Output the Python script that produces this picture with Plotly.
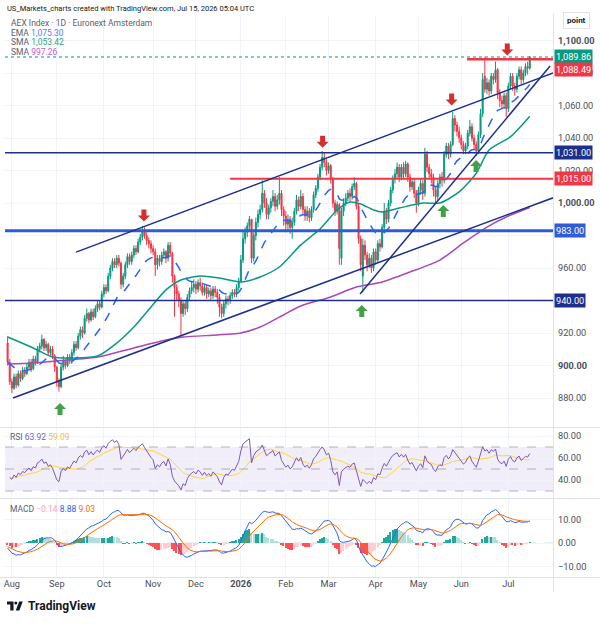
import numpy as np
import pandas as pd
import plotly.graph_objects as go

W, H = 600, 624
FONT = "Roboto, Inter, sans-serif"

# ---------------- data ----------------
holidays = ["2025-12-25", "2025-12-26", "2026-01-01", "2026-04-03", "2026-04-06", "2026-05-01"]
dates = pd.bdate_range("2025-07-30", "2026-07-15")
dates = dates[~dates.isin(pd.to_datetime(holidays))]

opens = [
    914, 902, 890, 886, 893, 888, 895, 892, 897, 895,
    899, 902, 898, 904, 902, 910, 912, 916, 911, 913,
    908, 910, 906, 899, 890, 887, 899, 903, 900, 905,
    903, 908, 913, 911, 918, 922, 920, 929, 932, 928,
    933, 930, 935, 938, 936, 944, 948, 946, 955, 960,
    964, 962, 966, 963, 950, 955, 962, 967, 964, 968,
    972, 970, 976, 979, 983, 980, 977, 975, 972, 970,
    962, 966, 964, 968, 970, 966, 974, 969, 955, 948,
    944, 940, 932, 938, 935, 942, 946, 948, 950, 947,
    951, 949, 945, 948, 944, 946, 943, 947, 945, 942,
    936, 932, 938, 941, 940, 943, 945, 944, 948, 952,
    965, 978, 982, 986, 990, 966, 980, 988, 993, 996,
    1006, 1000, 993, 997, 1001, 1004, 998, 1002, 1006, 996,
    992, 987, 990, 985, 988, 995, 1002, 998, 1004, 996,
    992, 995, 991, 996, 1005, 1009, 1016, 1022, 1028, 1025,
    1020, 1023, 1015, 1000, 995, 999, 966, 995, 1000, 1003,
    1006, 1004, 1010, 1012, 998, 978, 955, 974, 968, 962,
    966, 960, 970, 965, 975, 973, 985, 995, 990, 1000,
    1008, 1015, 1018, 1022, 1016, 1022, 1018, 1024, 1016, 1010,
    1013, 1006, 1000, 1008, 1012, 1006, 1030, 1022, 1018, 1016,
    1008, 1004, 1012, 1016, 1014, 1030, 1035, 1030, 1036, 1052,
    1048, 1044, 1040, 1036, 1032, 1035, 1043, 1047, 1040, 1036,
    1032, 1042, 1055, 1078, 1070, 1074, 1069, 1078, 1076, 1082,
    1068, 1063, 1061, 1066, 1058, 1072, 1078, 1072, 1070, 1078,
    1082, 1076, 1080, 1084, 1083,
]
highs = [
    918, 904, 892, 895, 895, 897, 897, 899, 899, 901,
    904, 904, 906, 906, 912, 914, 919, 917, 915, 914,
    912, 912, 907, 900, 892, 901, 906, 904, 907, 907,
    910, 915, 915, 920, 924, 924, 931, 935, 933, 935,
    935, 937, 940, 940, 946, 950, 950, 957, 962, 966,
    966, 968, 968, 964, 957, 964, 969, 969, 970, 974,
    974, 978, 981, 986, 985, 982, 979, 977, 974, 972,
    968, 968, 970, 972, 971, 976, 976, 970, 956, 950,
    946, 942, 940, 940, 944, 948, 952, 953, 952, 953,
    954, 951, 950, 950, 948, 948, 949, 949, 947, 944,
    938, 940, 943, 943, 945, 947, 947, 950, 954, 968,
    983, 985, 988, 992, 990, 982, 991, 996, 999, 1014,
    1008, 1003, 999, 1003, 1008, 1006, 1005, 1016, 1008, 998,
    995, 993, 992, 991, 997, 1005, 1004, 1008, 1006, 998,
    998, 997, 998, 1007, 1011, 1018, 1024, 1032, 1031, 1027,
    1025, 1024, 1016, 1002, 1001, 1000, 997, 1003, 1006, 1008,
    1009, 1012, 1016, 1013, 1000, 980, 978, 977, 970, 969,
    968, 972, 972, 977, 978, 987, 1000, 997, 1002, 1010,
    1017, 1021, 1025, 1024, 1024, 1025, 1026, 1025, 1018, 1015,
    1015, 1008, 1010, 1015, 1014, 1034, 1032, 1024, 1021, 1018,
    1010, 1014, 1018, 1019, 1032, 1037, 1037, 1038, 1056, 1054,
    1050, 1047, 1042, 1038, 1037, 1045, 1051, 1049, 1042, 1038,
    1044, 1058, 1080, 1090, 1077, 1076, 1080, 1080, 1087, 1083,
    1070, 1066, 1068, 1068, 1074, 1080, 1080, 1074, 1080, 1084,
    1084, 1082, 1086, 1087, 1090.5,
]
lows = [
    900, 888, 883, 885, 886, 887, 890, 891, 893, 894,
    897, 896, 897, 900, 901, 908, 910, 909, 909, 906,
    906, 904, 896, 887, 884, 886, 897, 898, 899, 901,
    901, 906, 909, 910, 916, 917, 919, 927, 926, 927,
    928, 929, 933, 934, 935, 942, 944, 945, 953, 958,
    960, 960, 961, 947, 948, 953, 960, 962, 962, 966,
    968, 969, 974, 977, 978, 974, 972, 969, 968, 955,
    959, 961, 962, 966, 963, 964, 967, 951, 930, 940,
    936, 918, 930, 931, 933, 940, 944, 945, 944, 945,
    946, 943, 943, 941, 942, 940, 941, 942, 938, 930,
    929, 930, 935, 937, 938, 941, 942, 942, 946, 951,
    963, 975, 979, 983, 963, 964, 977, 985, 990, 994,
    997, 990, 990, 994, 998, 995, 996, 999, 992, 986,
    982, 983, 981, 978, 986, 993, 995, 996, 993, 989,
    989, 988, 989, 994, 1003, 1007, 1014, 1020, 1022, 1017,
    1018, 1012, 997, 992, 993, 962, 962, 992, 998, 1001,
    1001, 1002, 1008, 996, 975, 958, 945, 965, 958, 960,
    957, 958, 962, 963, 970, 972, 983, 987, 988, 998,
    1006, 1012, 1015, 1013, 1014, 1015, 1016, 1013, 1007, 1008,
    1003, 994, 998, 1005, 1002, 1004, 1019, 1015, 1012, 1004,
    1000, 1002, 1009, 1010, 1012, 1028, 1027, 1028, 1035, 1044,
    1041, 1037, 1033, 1030, 1030, 1033, 1041, 1038, 1033, 1029,
    1030, 1040, 1053, 1068, 1067, 1066, 1067, 1073, 1074, 1064,
    1059, 1058, 1059, 1053, 1056, 1070, 1069, 1066, 1068, 1076,
    1073, 1074, 1078, 1079, 1082,
]
closes = [
    902, 890, 886, 893, 888, 895, 892, 897, 895, 899,
    902, 898, 904, 902, 910, 912, 916, 911, 913, 908,
    910, 906, 899, 890, 887, 899, 903, 900, 905, 903,
    908, 913, 911, 918, 922, 920, 929, 932, 928, 933,
    930, 935, 938, 936, 944, 948, 946, 955, 960, 964,
    962, 966, 963, 950, 955, 962, 967, 964, 968, 972,
    970, 976, 979, 983, 980, 977, 975, 972, 970, 962,
    966, 964, 968, 970, 966, 974, 969, 955, 948, 944,
    940, 932, 938, 935, 942, 946, 948, 950, 947, 951,
    949, 945, 948, 944, 946, 943, 947, 945, 942, 936,
    932, 938, 941, 940, 943, 945, 944, 948, 952, 965,
    978, 982, 986, 990, 966, 980, 988, 993, 996, 1006,
    1000, 993, 997, 1001, 1004, 998, 1002, 1006, 996, 992,
    987, 990, 985, 988, 995, 1002, 998, 1004, 996, 992,
    995, 991, 996, 1005, 1009, 1016, 1022, 1028, 1025, 1020,
    1023, 1015, 1000, 995, 999, 972, 995, 1000, 1003, 1006,
    1004, 1010, 1012, 998, 978, 962, 974, 968, 962, 966,
    960, 970, 965, 975, 973, 985, 995, 990, 1000, 1008,
    1015, 1018, 1022, 1016, 1022, 1018, 1024, 1016, 1010, 1013,
    1006, 1000, 1008, 1012, 1006, 1030, 1022, 1018, 1016, 1008,
    1004, 1012, 1016, 1014, 1030, 1035, 1030, 1036, 1052, 1048,
    1044, 1040, 1036, 1032, 1035, 1043, 1047, 1040, 1036, 1032,
    1042, 1055, 1076, 1070, 1074, 1069, 1078, 1076, 1082, 1068,
    1063, 1061, 1066, 1058, 1072, 1078, 1072, 1070, 1078, 1082,
    1076, 1080, 1084, 1083, 1089.86,
]

# moving averages (bar index, value)
sma50_bar = [0, 12, 21, 31, 42, 51, 59, 67, 74, 81, 90, 99, 109, 118, 127, 137, 146, 154, 160,
             165, 171, 175, 183, 194, 202, 211, 219, 225, 235, 244]
sma50_val = [917.5, 910.8, 905.2, 904.6, 905.8, 913.8, 923.7, 936.0, 946.5, 952.6, 955.1, 953.8,
             951.4, 954.5, 960.6, 974.2, 984.0, 995.7, 1000.6, 999.4, 995.7, 994.5, 996.9, 1000.0,
             1000.0, 1006.8, 1018.3, 1032.6, 1040.8, 1053.42]
sma200_bar = [0, 12, 28, 42, 59, 74, 82, 98, 109, 118, 127, 137, 151, 163, 175, 188, 202, 213,
              224, 233, 244]
sma200_val = [900.9, 901.5, 903.4, 905.2, 910.8, 915.7, 917.5, 918.8, 920.0, 923.7, 929.8, 936.6,
              942.2, 948.3, 951.4, 957.5, 964.9, 975.4, 985.2, 991.4, 997.26]

# indicator state carried in from before the visible window (read from first visible values)
rsi_seed_gain, rsi_seed_loss = 3.6, 4.0
macd_seed_fast, macd_seed_slow, macd_seed_signal = 906.0, 908.0, -1.5

# drawings
level_price = [1031.00, 1015.00, 983.00, 940.00, 1088.49]
level_start = [None, 104, None, None, 214.7]
trend_x0 = [32.0, 2.5, 164.7]
trend_y0 = [969.8, 880.0, 944.0]
trend_x1 = [254.9, 254.9, 253.5]
trend_y1 = [1080.0, 1003.2, 1084.3]
down_arrow_bar = [63.7, 147.2, 207.5, 233.5]
down_arrow_price = [988.6, 1034.0, 1060.0, 1090.8]
up_arrow_bar = [24.5, 165.5, 203.6, 218.9]
up_arrow_price = [876.9, 937.2, 998.8, 1026.5]
last_price = 1089.86

month_labels = ["Aug", "Sep", "Oct", "Nov", "Dec", "<b>2026</b>", "Feb", "Mar", "Apr", "May", "Jun", "Jul"]
legend_ema, legend_sma50, legend_sma200 = "1,075.30", "1,053.42", "997.26"
legend_rsi = ["63.92", "59.09"]
legend_macd = ["\u22120.14", "8.88", "9.03"]

# ---------------- geometry ----------------
PX_L, PX_R = 5, 553
BAR0_PX, BAR_PX = 7.6, 2.14
X_RANGE = [(PX_L - BAR0_PX) / BAR_PX, (PX_R - BAR0_PX) / BAR_PX]


def pyp(py):
    return 1 - py / H


def pxp(px):
    return px / W


P_TOP, P_BOT = 15, 426
def price_at(py):
    return 1000 - (py - 203) / 1.625
R_TOP, R_BOT = 428, 497
def rsi_at(py):
    return 60 - (py - 458) / 1.1
M_TOP, M_BOT = 499, 577
def macd_at(py):
    return -(py - 543) / 2.35

UP, DN = "#089981", "#f23645"
NAVY, BLUE, RED = "#1c2f8c", "#2f5bd6", "#f23645"
GRID = "#f0f3fa"
TXT = "#131722"
AXT = "#4a4e5a"
LEG = "#5d606b"
TICK_SIZE = 9.2
LEG_SIZE = 8.5

xb = list(range(len(closes)))
month_pos = []
prev = (dates[0].year, dates[0].month)
for i, d in enumerate(dates):
    if (d.year, d.month) != prev:
        month_pos.append(i)
        prev = (d.year, d.month)

c = pd.Series(closes, dtype=float)
ema = c.ewm(span=20, adjust=False).mean()

# RSI (Wilder) continuing from seeded averages
ag, al = rsi_seed_gain, rsi_seed_loss
rsi_vals = []
for i in range(1, len(closes)):
    ch = closes[i] - closes[i - 1]
    ag = (ag * 13 + max(ch, 0)) / 14
    al = (al * 13 + max(-ch, 0)) / 14
    rsi_vals.append(100 - 100 / (1 + ag / al))
rsi = pd.Series(rsi_vals)
rsi_ma = rsi.rolling(14, min_periods=1).mean()

# MACD 12/26/9 continuing from seeded EMAs
f, s, sg = macd_seed_fast, macd_seed_slow, macd_seed_signal
macd_l, sig_l = [], []
for v in closes:
    f = f + (v - f) * 2 / 13
    s = s + (v - s) * 2 / 27
    m = f - s
    sg = sg + (m - sg) * 2 / 10
    macd_l.append(m)
    sig_l.append(sg)
macd = pd.Series(macd_l)
sig = pd.Series(sig_l)
hist = macd - sig
hcol = []
for i, h in enumerate(hist):
    p = hist.iloc[i - 1] if i > 0 else 0
    if h >= 0:
        hcol.append("#26a69a" if h >= p else "#b2dfdb")
    else:
        hcol.append("#ff5252" if h < p else "#ffcdd2")

fig = go.Figure()
fig.add_trace(go.Candlestick(
    x=xb, open=opens, high=highs, low=lows, close=closes,
    increasing=dict(line=dict(color=UP, width=1), fillcolor=UP),
    decreasing=dict(line=dict(color=DN, width=1), fillcolor=DN),
    whiskerwidth=0, xaxis="x", yaxis="y", hoverinfo="skip"))
fig.add_trace(go.Scatter(x=sma200_bar, y=sma200_val, mode="lines",
                         line=dict(color="#ab47bc", width=1.5, shape="spline", smoothing=0.7),
                         xaxis="x", yaxis="y"))
fig.add_trace(go.Scatter(x=sma50_bar, y=sma50_val, mode="lines",
                         line=dict(color="#089981", width=1.5, shape="spline", smoothing=0.7),
                         xaxis="x", yaxis="y"))
fig.add_trace(go.Scatter(x=xb, y=ema, mode="lines",
                         line=dict(color="#2962ff", width=1.5, dash="dash"),
                         xaxis="x", yaxis="y"))

fig.add_trace(go.Scatter(x=xb[1:], y=rsi_ma, mode="lines", line=dict(color="#fdd835", width=1),
                         xaxis="x2", yaxis="y2"))
fig.add_trace(go.Scatter(x=xb[1:], y=rsi, mode="lines", line=dict(color="#7e57c2", width=1),
                         xaxis="x2", yaxis="y2"))
fig.add_trace(go.Bar(x=xb, y=hist, marker=dict(color=hcol, line=dict(width=0)), width=0.65,
                     xaxis="x3", yaxis="y3"))
fig.add_trace(go.Scatter(x=xb, y=macd, mode="lines", line=dict(color="#2962ff", width=1),
                         xaxis="x3", yaxis="y3"))
fig.add_trace(go.Scatter(x=xb, y=sig, mode="lines", line=dict(color="#ff6d00", width=1),
                         xaxis="x3", yaxis="y3"))

shapes = []
shapes.append(dict(type="rect", xref="x2 domain", yref="y2", x0=0, x1=1, y0=30, y1=70,
                   fillcolor="rgba(126,87,194,0.10)", line=dict(width=0), layer="below"))
for lv in (70, 50, 30):
    shapes.append(dict(type="line", xref="x2 domain", yref="y2", x0=0, x1=1, y0=lv, y1=lv,
                       line=dict(color="rgba(120,123,134,0.55)", width=1, dash="dash")))
shapes.append(dict(type="line", xref="x3 domain", yref="y3", x0=0, x1=1, y0=0, y1=0,
                   line=dict(color="rgba(120,123,134,0.25)", width=1, dash="dash"), layer="below"))

lvl_style = [(NAVY, 1.5), (RED, 2), (BLUE, 3), (NAVY, 1.5), (RED, 2.5)]
for p, st, (col, wd) in zip(level_price, level_start, lvl_style):
    shapes.append(dict(type="line", xref="x", yref="y", x0=X_RANGE[0] if st is None else st,
                       x1=X_RANGE[1], y0=p, y1=p, line=dict(color=col, width=wd)))
shapes.append(dict(type="line", xref="x", yref="y", x0=X_RANGE[0], x1=X_RANGE[1],
                   y0=last_price, y1=last_price, line=dict(color=UP, width=1, dash="dot")))
for a, b, cc, d in zip(trend_x0, trend_y0, trend_x1, trend_y1):
    shapes.append(dict(type="line", xref="x", yref="y", x0=a, y0=b, x1=cc, y1=d,
                       line=dict(color=NAVY, width=1.5)))
down_path = "M0,0 L-6,6 L-2.5,6 L-2.5,12 L2.5,12 L2.5,6 L6,6 Z"
up_path = "M0,0 L-6,-6 L-2.5,-6 L-2.5,-12 L2.5,-12 L2.5,-6 L6,-6 Z"
for bx, by in zip(down_arrow_bar, down_arrow_price):
    shapes.append(dict(type="path", xref="x", yref="y", xsizemode="pixel", ysizemode="pixel",
                       xanchor=bx, yanchor=by, path=down_path, fillcolor="#d32f2f",
                       line=dict(width=0)))
for bx, by in zip(up_arrow_bar, up_arrow_price):
    shapes.append(dict(type="path", xref="x", yref="y", xsizemode="pixel", ysizemode="pixel",
                       xanchor=bx, yanchor=by, path=up_path, fillcolor="#43a047",
                       line=dict(width=0)))

SEP = "#e0e3eb"
def pline(x0, y0, x1, y1, col=SEP, w=1):
    shapes.append(dict(type="line", xref="paper", yref="paper", x0=pxp(x0), x1=pxp(x1),
                       y0=pyp(y0), y1=pyp(y1), line=dict(color=col, width=w)))
pline(553.5, 14, 553.5, 592)
pline(0, 427.5, 600, 427.5)
pline(0, 498.5, 600, 498.5)
pline(0, 577.5, 600, 577.5)

def ppath(pts):
    return "M" + " L".join(f"{pxp(x):.5f},{pyp(y):.5f}" for x, y in pts) + " Z"
shapes.append(dict(type="path", xref="paper", yref="paper",
                   path=ppath([(7, 601.5), (13.5, 601.5), (13.5, 610.5), (10.3, 610.5), (10.3, 604.5), (7, 604.5)]),
                   fillcolor=TXT, line=dict(width=0)))
shapes.append(dict(type="circle", xref="paper", yref="paper", x0=pxp(14.3), x1=pxp(17.3),
                   y0=pyp(604.5), y1=pyp(601.5), fillcolor=TXT, line=dict(width=0)))
shapes.append(dict(type="path", xref="paper", yref="paper",
                   path=ppath([(19.2, 601.5), (22.8, 601.5), (19.3, 610.5), (15.7, 610.5)]),
                   fillcolor=TXT, line=dict(width=0)))

ann = []
def text(px, py, t, size=LEG_SIZE, color=TXT, xanchor="left", **kw):
    ann.append(dict(xref="paper", yref="paper", x=pxp(px), y=pyp(py), text=t, showarrow=False,
                    xanchor=xanchor, yanchor="middle", font=dict(size=size, color=color, family=FONT), **kw))

text(5, 9, "US_Markets_charts created with TradingView.com, Jul 15, 2026 05:04 UTC", size=7.5, color=TXT)
text(9, 23, "AEX Index \u00b7 1D \u00b7 Euronext Amsterdam", color=LEG)
text(9, 33, f"EMA <span style='color:#5b7cf7'>{legend_ema}</span>", color=LEG)
text(9, 42.5, f"SMA <span style='color:#1fa58b'>{legend_sma50}</span>", color=LEG)
text(9, 52, f"SMA <span style='color:#c159d8'>{legend_sma200}</span>", color=LEG)
text(8, 437, f"RSI <span style='color:#7e57c2'>{legend_rsi[0]}</span> "
             f"<span style='color:#e8c43a'>{legend_rsi[1]}</span>", color=LEG)
text(8, 509, f"MACD <span style='color:#f7a8b0'>{legend_macd[0]}</span> "
             f"<span style='color:#2962ff'>{legend_macd[1]}</span> "
             f"<span style='color:#ff6d00'>{legend_macd[2]}</span>", color=LEG)
text(25.5, 606, "<b>TradingView</b>", size=12, color=TXT)
text(576, 20, "<b>point</b>", size=8, color=TXT, xanchor="center",
     bordercolor="#e0e3eb", borderwidth=1, borderpad=3, bgcolor="white")

def fmt(v):
    return f"{v:,.2f}"
lab_specs = [(last_price, UP, 0), (1088.49, RED, -10), (1031.00, NAVY, 0), (1015.00, RED, 0),
             (983.00, BLUE, 0), (940.00, NAVY, 0)]
for v, col, ys in lab_specs:
    ann.append(dict(xref="paper", yref="y", x=pxp(554), y=v, text=fmt(v), showarrow=False,
                    xanchor="left", yanchor="middle", yshift=ys, bgcolor=col, borderpad=1,
                    font=dict(size=TICK_SIZE, color="white", family=FONT)))

price_ticks = list(range(880, 1101, 20))
hidden_ticks = [940, 980]   # covered by the level labels on the scale
price_text = ["" if v in hidden_ticks else (f"<b>{fmt(v)}</b>" if v % 100 == 0 else fmt(v))
              for v in price_ticks]

common_x = dict(domain=[pxp(PX_L), pxp(PX_R)], range=X_RANGE, showgrid=True, gridcolor=GRID,
                tickvals=month_pos, zeroline=False, showline=False, ticks="", fixedrange=True)
common_y = dict(side="right", showgrid=True, gridcolor=GRID, zeroline=False, showline=False,
                ticks="", tickfont=dict(size=TICK_SIZE, color=AXT, family=FONT), automargin=False,
                ticklabelstandoff=4)

fig.update_layout(
    template="none", width=W, height=H, margin=dict(l=0, r=0, t=0, b=0),
    paper_bgcolor="white", plot_bgcolor="white", showlegend=False, hovermode=False,
    font=dict(family=FONT, size=11, color=TXT), bargap=0,
    xaxis=dict(**common_x, anchor="y", showticklabels=False, rangeslider=dict(visible=False)),
    xaxis2=dict(**common_x, anchor="y2", showticklabels=False),
    xaxis3=dict(**common_x, anchor="y3", showticklabels=True, ticktext=month_labels,
                tickfont=dict(size=TICK_SIZE, color=AXT, family=FONT)),
    yaxis=dict(**common_y, anchor="x", domain=[pyp(P_BOT), pyp(P_TOP)],
               range=[price_at(P_BOT), price_at(P_TOP)], tickvals=price_ticks, ticktext=price_text),
    yaxis2=dict(**common_y, anchor="x2", domain=[pyp(R_BOT), pyp(R_TOP)],
                range=[rsi_at(R_BOT), rsi_at(R_TOP)], tickvals=[40, 60, 80],
                ticktext=["40.00", "60.00", "80.00"]),
    yaxis3=dict(**common_y, anchor="x3", domain=[pyp(M_BOT), pyp(M_TOP)],
                range=[macd_at(M_BOT), macd_at(M_TOP)], tickvals=[-10, 0, 10],
                ticktext=["\u221210.00", "0.00", "10.00"]),
    shapes=shapes, annotations=ann,
)

fig.write_html("out.html")
